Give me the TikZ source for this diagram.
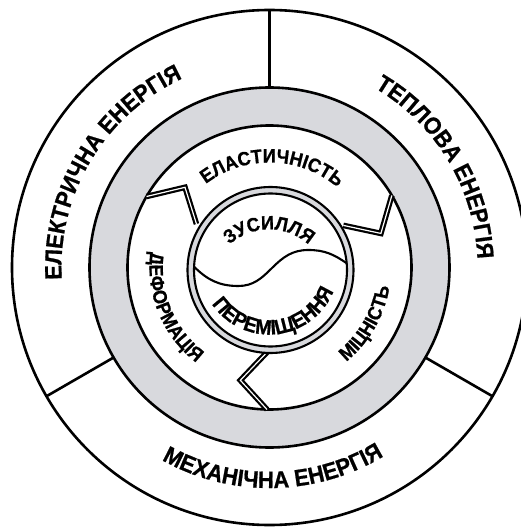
\documentclass[tikz,border=0pt]{standalone}
\usepackage{fontspec}
\setmainfont{Liberation Sans}
\newfontfamily\labelface{Liberation Sans Bold}[FakeStretch=0.93, FakeBold=0.8]
\usetikzlibrary{decorations.text}
\definecolor{ringgray}{RGB}{216,217,221}
\newcommand\energyfont{\labelface\fontsize{23.6}{25}\selectfont}
\newcommand\processfont{\labelface\fontsize{19.4}{21}\selectfont}
\newcommand\forcefont{\labelface\fontsize{19.4}{21}\selectfont}
\newcommand\movefont{\labelface\fontsize{21}{23}\selectfont}

\begin{document}
\begin{tikzpicture}[x=1pt, y=1pt,
    rim/.style={line width=2.6pt},
    core/.style={line width=2.1pt},
    divider/.style={double=white, double distance=1.2pt, line width=2.2pt, line join=miter},
    ringtext/.style={decorate, decoration={text along path, text align=center, text={#1}}}]
    \useasboundingbox (-269.5,-259.5) rectangle (251.5,267.5);
    \clip (-269.5,-259.5) rectangle (251.5,267.5);

    % Energies
    \draw[rim, fill=white] (0,0) circle[radius=257.5pt];
    \draw[rim, fill=ringgray] (0,0) circle[radius=180pt];
    \foreach \a in {90,210,330}
        \draw[rim] (\a:180) -- (\a:257.5);

    % Processes
    \draw[rim, fill=white] (0,0) circle[radius=142pt];
    \foreach \a in {30.5,150,269}
        \draw[divider] (\a:142) -- (\a-13.5:116.5) -- (\a-0.8:85);

    % Core
    \begin{scope}[shift={(1,-2.5)}]
        \draw[core, fill=ringgray] (0,0) circle[radius=83pt];
        \draw[core, fill=white] (0,0) circle[radius=76.5pt];
        \draw[core] (-76.4,3.3) to[out=-45,in=180] (-32.2,-16)
            to[out=0,in=-135] (1.2,1.7) to[out=45,in=180] (37.8,20)
            to[out=0,in=145] (76.2,6.7);
        \path[shift={(-1.5,-18.5)}, ringtext={|\forcefont|ЗУСИЛЛЯ}]
            (140:59) arc[start angle=140, end angle=40, radius=59pt];
        \path[shift={(-1.2,4.7)}, ringtext={|\movefont|ПЕРЕМІЩЕННЯ}]
            (196:69.2) arc[start angle=196, end angle=356, radius=69.2pt];
    \end{scope}

    % Labels
    \path[ringtext={|\energyfont|ЕЛЕКТРИЧНА ЕНЕРГІЯ}]
        (194:208) arc[start angle=194, end angle=104, radius=208pt];
    \path[ringtext={|\energyfont|ТЕПЛОВА ЕНЕРГІЯ}]
        (76:208) arc[start angle=76, end angle=-14, radius=208pt];
    \path[ringtext={|\energyfont|МЕХАНІЧНА ЕНЕРГІЯ}]
        (226:220.5) arc[start angle=226, end angle=316, radius=220.5pt];
    \path[ringtext={|\processfont|ЕЛАСТИЧНІСТЬ}]
        (133.5:105) arc[start angle=133.5, end angle=43.5, radius=105pt];
    \path[ringtext={|\processfont|ДЕФОРМАЦІЯ}]
        (162:120) arc[start angle=162, end angle=243, radius=120pt];
    \path[ringtext={|\processfont|МІЦНІСТЬ}]
        (295:121.5) arc[start angle=295, end angle=365, radius=121.5pt];
\end{tikzpicture}
\end{document}
